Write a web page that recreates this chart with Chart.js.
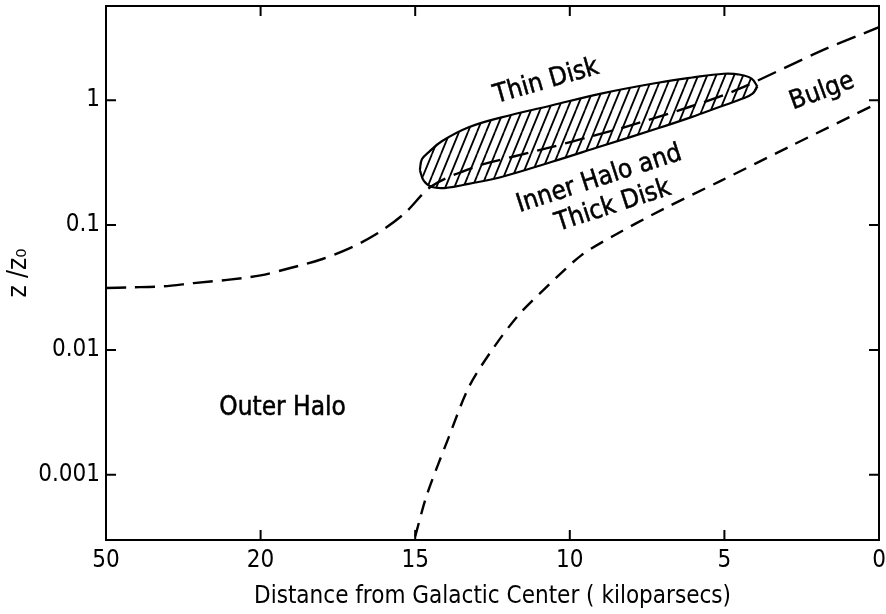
<!DOCTYPE html>
<html><head><meta charset="utf-8">
<script src="https://cdn.jsdelivr.net/npm/chart.js@4.4.1/dist/chart.umd.min.js"></script>
<style>html,body{margin:0;padding:0;background:#fff}#wrap{width:886px;height:614px}</style>
</head><body><div id="wrap"><canvas id="c" width="886" height="614"></canvas></div>
<script>
// ---- data (distance in kpc, z/z0) ----
const xTickValues = [50, 20, 15, 10, 5, 0];
const xInnerTicks = [20, 15, 10, 5];
const yTickValues = [1, 0.1, 0.01, 0.001];
const yTickLabels = ['1', '0.1', '0.01', '0.001'];

// Outer halo / inner halo boundary (long dashes)
const haloDist = [50, 45.5, 38.9, 33.0, 26.5, 20, 19.07, 18.10, 17.13, 16.23, 15.36, 14.46, 13.08, 11.88, 10.60, 9.31, 8.24, 6.09, 4.57, 1.80, 0];
const haloZ    = [0.0313, 0.0317, 0.0323, 0.0343, 0.0364, 0.0395, 0.0451, 0.0525, 0.0650, 0.0855, 0.123, 0.206, 0.292, 0.351, 0.421, 0.514, 0.607, 0.891, 1.22, 2.53, 3.85];

// Inner halo / bulge boundary (short dashes)
const bulgeDist = [15.0, 14.62, 13.91, 13.27, 12.53, 11.66, 10.69, 9.63, 8.57, 6.96, 5.12, 2.87, 0];
const bulgeZ    = [0.00032, 0.000693, 0.00201, 0.00501, 0.00986, 0.0190, 0.033, 0.0572, 0.0826, 0.135, 0.226, 0.428, 0.959];

// Thin disk region outline
const diskUpperDist = [3.93, 4.12, 4.48, 5.02, 6.09, 7.15, 8.99, 10.60, 12.21, 13.27, 14.14, 14.56, 14.78, 14.85];
const diskUpperZ    = [1.285, 1.488, 1.601, 1.631, 1.515, 1.382, 1.131, 0.908, 0.729, 0.607, 0.469, 0.384, 0.338, 0.276];
const diskLowerDist = [3.93, 4.09, 4.41, 5.12, 6.09, 7.15, 8.99, 10.60, 12.21, 13.27, 13.98, 14.46, 14.72, 14.85];
const diskLowerZ    = [1.285, 1.131, 1.032, 0.891, 0.729, 0.596, 0.428, 0.320, 0.243, 0.214, 0.199, 0.202, 0.226, 0.276];

// Region labels
const regionLabels = [
  {text: 'Thin Disk', d: 10.76, z: 1.41, rot: -16},
  {text: 'Inner Halo and', d: 9.05, z: 0.233, rot: -18},
  {text: 'Thick Disk', d: 8.6, z: 0.142, rot: -18},
  {text: 'Bulge', d: 1.84, z: 1.17, rot: -20},
  {text: 'Outer Halo', d: 19.29, z: 0.00341, rot: 0}
];

// ---- broken x axis: linear 0-20 kpc, compressed 20-50 kpc ----
function toU(d) { return d <= 20 ? d : 20 + (d - 20) / 6; }
function fromU(u) { return u <= 20 ? u : 20 + (u - 20) * 6; }
function pts(ds, zs) { return ds.map((d, i) => ({x: toU(d), y: zs[i]})); }

const FONT = '"DejaVu Sans Condensed", "DejaVu Sans", sans-serif';

// hatch pattern
function makeHatch() {
  const c = document.createElement('canvas');
  c.width = 9; c.height = 22;
  const g = c.getContext('2d');
  g.strokeStyle = '#000';
  g.lineWidth = 1.8;
  g.beginPath();
  for (const off of [-9, 0, 9]) {
    g.moveTo(off, 22); g.lineTo(off + 9, 0);
  }
  g.stroke();
  return g.createPattern(c, 'repeat');
}
const hatch = makeHatch();

const framePlugin = {
  id: 'frame',
  afterDatasetsDraw(chart) {
    const {ctx, chartArea: a, scales} = chart;
    ctx.save();
    ctx.strokeStyle = '#000';
    ctx.lineWidth = 2;
    ctx.strokeRect(a.left, a.top, a.right - a.left, a.bottom - a.top);
    ctx.beginPath();
    const L = 10;
    yTickValues.forEach(v => {
      const y = scales.y.getPixelForValue(v);
      ctx.moveTo(a.left, y); ctx.lineTo(a.left + L, y);
      ctx.moveTo(a.right, y); ctx.lineTo(a.right - L, y);
    });
    xInnerTicks.forEach(d => {
      const x = scales.x.getPixelForValue(toU(d));
      ctx.moveTo(x, a.bottom); ctx.lineTo(x, a.bottom - L);
      ctx.moveTo(x, a.top); ctx.lineTo(x, a.top + L);
    });
    ctx.stroke();
    // region labels
    ctx.fillStyle = '#000';
    ctx.strokeStyle = '#000';
    ctx.lineWidth = 0.5;
    ctx.font = '26px ' + FONT;
    ctx.textAlign = 'center';
    ctx.textBaseline = 'middle';
    regionLabels.forEach(l => {
      const x = scales.x.getPixelForValue(toU(l.d));
      const y = scales.y.getPixelForValue(l.z);
      ctx.save();
      ctx.translate(x, y);
      ctx.rotate(l.rot * Math.PI / 180);
      ctx.fillText(l.text, 0, 0);
      ctx.strokeText(l.text, 0, 0);
      ctx.restore();
    });
    ctx.restore();
  }
};

const lineBase = {showLine: true, pointRadius: 0, borderColor: '#000', tension: 0.4, fill: false};
const noGrid = {display: true, drawOnChartArea: false, drawTicks: false, lineWidth: 0};

new Chart(document.getElementById('c'), {
  type: 'scatter',
  data: {
    datasets: [
      Object.assign({}, lineBase, {data: pts(haloDist, haloZ), borderWidth: 2.4, borderDash: [20, 9], tension: 0.3}),
      Object.assign({}, lineBase, {data: pts(bulgeDist, bulgeZ), borderWidth: 2.4, borderDash: [14, 9], tension: 0.3}),
      Object.assign({}, lineBase, {data: pts(diskUpperDist, diskUpperZ), borderWidth: 2.2, fill: '+1', backgroundColor: hatch}),
      Object.assign({}, lineBase, {data: pts(diskLowerDist, diskLowerZ), borderWidth: 2.2})
    ]
  },
  options: {
    responsive: false,
    animation: false,
    devicePixelRatio: 1,
    layout: {padding: {left: 0, right: 7, top: 6, bottom: 0}},
    plugins: {legend: {display: false}, tooltip: {enabled: false}, filler: {drawTime: 'beforeDatasetsDraw'}},
    scales: {
      x: {
        type: 'linear', reverse: true, min: 0, max: 25,
        grid: noGrid, border: {display: false},
        afterBuildTicks: s => { s.ticks = xTickValues.map(d => ({value: toU(d)})); },
        afterFit: s => { s.height = 74; s.paddingLeft = 0; s.paddingRight = 0; },
        ticks: {
          color: '#000', font: {family: FONT, size: 24}, padding: 6, maxRotation: 0,
          callback: v => String(Math.round(fromU(v)))
        },
        title: {display: true, text: 'Distance from Galactic Center ( kiloparsecs)', color: '#000',
                font: {family: FONT, size: 24}, padding: {top: 0, bottom: 3}}
      },
      y: {
        type: 'logarithmic', min: 0.000323, max: 5.69,
        grid: noGrid, border: {display: false},
        afterBuildTicks: s => { s.ticks = yTickValues.map(v => ({value: v})); },
        afterFit: s => { s.width = 106; s.paddingTop = 0; s.paddingBottom = 0; },
        ticks: {
          color: '#000', font: {family: FONT, size: 24}, padding: 6,
          callback: v => { const i = yTickValues.findIndex(t => Math.abs(t - v) / t < 1e-6); return i >= 0 ? yTickLabels[i] : ''; }
        },
        title: {display: true, text: 'z /z₀', color: '#000', font: {family: FONT, size: 26}, padding: {top: 4, bottom: 0}}
      }
    }
  },
  plugins: [framePlugin]
});
</script>
</body></html>
